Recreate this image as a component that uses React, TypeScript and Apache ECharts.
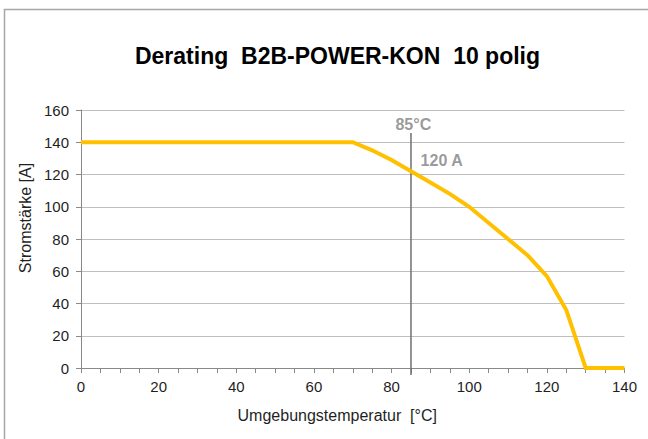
import React, { useEffect, useRef } from "react";
import * as echarts from "echarts";

const titleText = "Derating  B2B-POWER-KON  10 polig";
const xName = "Umgebungstemperatur  [°C]";
const yName = "Stromstärke [A]";
const temps = [0, 70, 75, 80, 85, 90, 95, 100, 110, 115, 120, 125, 130, 140];
const currents = [140, 140, 135, 129, 122, 115, 108, 100, 80, 70, 57, 36, 0, 0];
const markerTemp = 85;
const markerLineY = [-4.3, 145.7];
const markerLabelTemp = "85°C";
const markerLabelTempPos = [85.6, 151];
const markerLabelCurrent = "120 A";
const markerLabelCurrentPos = [92.9, 128.5];

export default function App() {
  const ref = useRef<HTMLDivElement>(null);
  useEffect(() => {
    if (!ref.current) return;
    const chart = echarts.init(ref.current, undefined, { renderer: "svg" });
    const font = "'Liberation Sans', Arial, sans-serif";
    chart.setOption({
      animation: false,
      backgroundColor: "#ffffff",
      textStyle: { fontFamily: font },
      title: {
        text: titleText,
        left: 332.5,
        top: 39,
        textAlign: "center",
        textStyle: { fontFamily: font, fontSize: 23, fontWeight: "bold", color: "#000" },
      },
      graphic: [
        {
          type: "rect",
          shape: { x: 4.5, y: 9.5, width: 700, height: 500 },
          style: { fill: "none", stroke: "#a6a6a6", lineWidth: 1.5 },
          silent: true,
        },
      ],
      grid: { left: 81, right: 23.5, top: 110, bottom: 71, containLabel: false },
      xAxis: {
        type: "value",
        min: 0,
        max: 140,
        interval: 20,
        name: xName,
        nameLocation: "middle",
        nameGap: 39,
        nameTextStyle: { fontSize: 16, color: "#1f1f1f", fontFamily: font, padding: [0, 31, 0, 0] },
        axisLine: { show: true, onZero: false, lineStyle: { color: "#898989", width: 1 } },
        axisTick: { show: true, length: 5, lineStyle: { color: "#898989" } },
        minorTick: { show: true, splitNumber: 4, length: 5, lineStyle: { color: "#898989" } },
        axisLabel: { fontSize: 15, color: "#1f1f1f", margin: 11, fontFamily: font },
        splitLine: { show: false },
      },
      yAxis: {
        type: "value",
        min: 0,
        max: 160,
        interval: 20,
        name: yName,
        nameLocation: "middle",
        nameGap: 45,
        nameTextStyle: { fontSize: 16, color: "#1f1f1f", fontFamily: font, padding: [0, 0, 0, 42] },
        axisLine: { show: true, lineStyle: { color: "#898989", width: 1 } },
        axisTick: { show: true, length: 5, lineStyle: { color: "#898989" } },
        axisLabel: { fontSize: 15, color: "#1f1f1f", margin: 12, fontFamily: font },
        splitLine: { show: true, lineStyle: { color: "#bfbfbf", width: 1 } },
      },
      series: [
        {
          type: "line",
          data: markerLineY.map((y) => [markerTemp, y]),
          symbol: "none",
          clip: false,
          lineStyle: { color: "#6f6f6f", width: 1.5 },
          silent: true,
          z: 3,
        },
        {
          type: "line",
          data: temps.map((t, i) => [t, currents[i]]),
          symbol: "none",
          lineStyle: { color: "#FFC000", width: 4, join: "miter" },
          z: 4,
        },
        {
          type: "scatter",
          symbolSize: 0,
          silent: true,
          data: [
            { value: markerLabelTempPos, name: markerLabelTemp },
            { value: markerLabelCurrentPos, name: markerLabelCurrent },
          ],
          label: {
            show: true,
            position: "inside",
            formatter: (p: any) => p.name,
            fontSize: 16,
            fontWeight: "bold",
            color: "#808080",
            fontFamily: font,
          },
          z: 5,
        },
      ],
    });
    return () => chart.dispose();
  }, []);
  return (
    <div
      ref={ref}
      style={{ position: "fixed", left: 0, top: 0, width: 648, height: 439 }}
    />
  );
}
